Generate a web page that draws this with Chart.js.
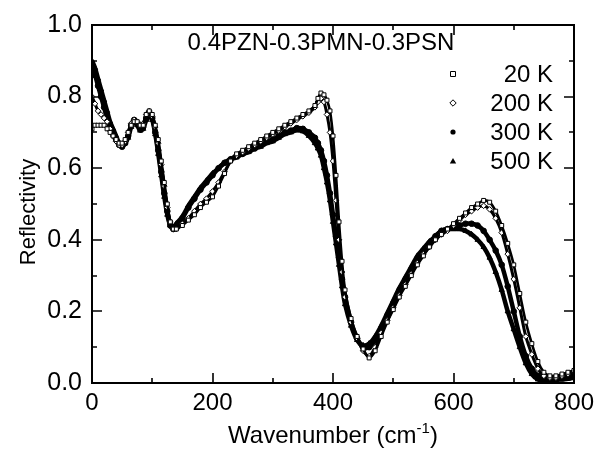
<!DOCTYPE html>
<html>
<head>
<meta charset="utf-8">
<script src="https://cdn.jsdelivr.net/npm/chart.js@4"></script>
<style>
  html, body { margin: 0; padding: 0; background: #fff; }
  canvas { display: block; }
</style>
</head>
<body>
<canvas id="c" width="615" height="453"></canvas>
<script>
// ---- data ----
const wavenumber = [0,5,10,15,20,25,30,35,40,45,50,55,60,65,70,75,80,85,90,95,100,
  105,110,115,120,125,130,135,140,
  150,160,170,180,190,200,210,220,230,240,250,260,270,280,290,300,
  310,320,330,340,350,360,370,375,380,385,390,395,400,405,410,415,420,
  430,440,450,460,470,480,490,500,510,520,530,540,550,560,570,580,590,
  600,610,620,630,640,650,660,670,680,690,700,710,720,730,740,750,760,770,780,790,800];

const r20K = [0.71,0.72,0.72,0.72,0.72,0.71,0.70,0.69,0.68,0.67,0.67,0.68,0.70,0.72,0.73,0.73,0.72,0.72,0.75,0.76,0.75,
  0.72,0.68,0.62,0.56,0.50,0.45,0.43,0.43,
  0.44,0.455,0.47,0.49,0.505,0.52,0.55,0.585,0.62,0.64,0.65,0.66,0.67,0.68,0.69,0.70,
  0.71,0.72,0.73,0.74,0.75,0.76,0.775,0.795,0.81,0.805,0.79,0.76,0.69,0.58,0.45,0.34,0.26,
  0.18,0.13,0.095,0.07,0.09,0.13,0.17,0.205,0.24,0.27,0.30,0.33,0.355,0.38,0.40,0.415,0.43,
  0.445,0.46,0.475,0.49,0.50,0.51,0.505,0.48,0.44,0.39,0.33,0.25,0.17,0.11,0.06,0.03,0.02,0.02,0.025,0.03,0.035];

const r200K = [0.80,0.78,0.76,0.75,0.74,0.73,0.71,0.69,0.675,0.665,0.665,0.675,0.70,0.725,0.735,0.73,0.72,0.725,0.75,0.76,0.745,
  0.715,0.67,0.61,0.55,0.49,0.45,0.43,0.43,
  0.445,0.46,0.48,0.50,0.515,0.535,0.56,0.59,0.62,0.635,0.645,0.655,0.665,0.675,0.685,0.695,
  0.705,0.715,0.725,0.735,0.745,0.755,0.77,0.785,0.795,0.785,0.75,0.70,0.62,0.51,0.40,0.31,0.24,
  0.17,0.125,0.09,0.075,0.10,0.14,0.175,0.21,0.245,0.275,0.305,0.335,0.36,0.38,0.40,0.415,0.425,
  0.44,0.455,0.47,0.48,0.49,0.495,0.485,0.46,0.42,0.36,0.29,0.21,0.13,0.08,0.04,0.02,0.015,0.015,0.02,0.025,0.03];

const r300K = [0.88,0.86,0.83,0.80,0.77,0.74,0.72,0.70,0.68,0.665,0.66,0.67,0.69,0.72,0.735,0.725,0.71,0.715,0.74,0.755,0.74,
  0.70,0.65,0.59,0.53,0.48,0.44,0.43,0.44,
  0.46,0.49,0.515,0.54,0.56,0.58,0.60,0.615,0.625,0.635,0.64,0.65,0.655,0.665,0.675,0.68,
  0.69,0.70,0.705,0.712,0.71,0.70,0.685,0.67,0.65,0.62,0.58,0.53,0.47,0.41,0.35,0.29,0.24,
  0.17,0.125,0.10,0.10,0.12,0.15,0.185,0.22,0.255,0.285,0.315,0.345,0.37,0.39,0.41,0.425,0.43,
  0.435,0.44,0.445,0.445,0.44,0.425,0.40,0.37,0.33,0.27,0.20,0.13,0.075,0.04,0.02,0.01,0.01,0.012,0.015,0.02,0.025];

const r500K = [0.90,0.88,0.85,0.82,0.79,0.76,0.73,0.71,0.69,0.67,0.665,0.67,0.685,0.715,0.73,0.72,0.705,0.71,0.735,0.75,0.735,
  0.695,0.64,0.58,0.52,0.47,0.44,0.435,0.445,
  0.465,0.495,0.52,0.545,0.565,0.585,0.60,0.615,0.625,0.63,0.64,0.645,0.655,0.66,0.67,0.675,
  0.685,0.695,0.70,0.706,0.703,0.69,0.67,0.655,0.635,0.60,0.56,0.51,0.45,0.39,0.33,0.27,0.22,
  0.16,0.12,0.105,0.11,0.13,0.16,0.195,0.23,0.265,0.295,0.325,0.355,0.375,0.395,0.41,0.425,0.43,
  0.43,0.43,0.425,0.415,0.40,0.38,0.35,0.31,0.26,0.20,0.15,0.10,0.055,0.025,0.01,0.005,0.005,0.008,0.01,0.012,0.015];

const seriesLabels = ['20 K', '200 K', '300 K', '500 K'];
const sampleLabel = '0.4PZN-0.3PMN-0.3PSN';
const xTicks = [0, 200, 400, 600, 800];
const yTicks = [0.0, 0.2, 0.4, 0.6, 0.8, 1.0];
const xTitle = 'Wavenumber (cm';
const xTitleSup = '-1';
const yTitle = 'Reflectivity';

// ---- chart ----
const FONT = '"Liberation Sans", Arial, Helvetica, sans-serif';
const toXY = arr => arr.map((v, i) => ({ x: wavenumber[i], y: v }));

const styles = [
  { pointStyle: 'rect',    fill: false, bw: 2.6, r: 2.8 },
  { pointStyle: 'rectRot', fill: false, bw: 3,   r: 2.8 },
  { pointStyle: 'circle',  fill: true,  bw: 4.5, r: 2.8 },
  { pointStyle: 'triangle',fill: true,  bw: 4.5, r: 3 }
];
const allSeries = [r20K, r200K, r300K, r500K];

const datasets = allSeries.map((arr, i) => ({
  label: seriesLabels[i],
  data: toXY(arr),
  showLine: true,
  borderColor: '#000',
  borderWidth: styles[i].bw,
  pointStyle: styles[i].pointStyle,
  pointRadius: styles[i].r,
  pointBorderWidth: 1,
  pointBorderColor: '#000',
  pointBackgroundColor: styles[i].fill ? '#000' : '#fff',
  tension: 0.3,
  fill: false
}));

const framePlugin = {
  id: 'frame',
  afterDraw(chart) {
    const { ctx, chartArea: a, scales } = chart;
    const xs = scales.x, ys = scales.y;
    ctx.save();
    ctx.strokeStyle = '#000';
    ctx.lineWidth = 2;
    ctx.strokeRect(a.left, a.top, a.right - a.left, a.bottom - a.top);
    ctx.lineWidth = 1.6;
    ctx.beginPath();
    for (let v = 0; v <= 800; v += 100) {
      const px = Math.round(xs.getPixelForValue(v));
      const len = (v % 200 === 0) ? 10 : 5;
      ctx.moveTo(px, a.bottom); ctx.lineTo(px, a.bottom - len);
      ctx.moveTo(px, a.top); ctx.lineTo(px, a.top + len);
    }
    for (let k = 0; k <= 10; k++) {
      const py = Math.round(ys.getPixelForValue(k / 10));
      const len = (k % 2 === 0) ? 10 : 5;
      ctx.moveTo(a.left, py); ctx.lineTo(a.left + len, py);
      ctx.moveTo(a.right, py); ctx.lineTo(a.right - len, py);
    }
    ctx.stroke();
    ctx.restore();
  }
};

const textPlugin = {
  id: 'texts',
  afterDraw(chart) {
    const { ctx, chartArea: a } = chart;
    ctx.save();
    ctx.fillStyle = '#000';
    // sample name
    ctx.font = '24px ' + FONT;
    ctx.textAlign = 'center';
    ctx.textBaseline = 'alphabetic';
    ctx.fillText(sampleLabel, 321, 50);
    // legend
    const ly = [74, 103, 132, 161];
    ctx.textAlign = 'right';
    ctx.textBaseline = 'middle';
    ly.forEach((y, i) => {
      ctx.fillText(seriesLabels[i], 553, y + 1);
      const mx = 453;
      ctx.lineWidth = 1;
      ctx.strokeStyle = '#000';
      ctx.beginPath();
      if (i === 0) {
        ctx.rect(mx - 2.5, y - 2.5, 5, 5);
        ctx.stroke();
      } else if (i === 1) {
        ctx.moveTo(mx, y - 3.2); ctx.lineTo(mx + 3.2, y); ctx.lineTo(mx, y + 3.2); ctx.lineTo(mx - 3.2, y); ctx.closePath();
        ctx.stroke();
      } else if (i === 2) {
        ctx.arc(mx, y, 2.6, 0, Math.PI * 2);
        ctx.fill();
      } else {
        ctx.moveTo(mx, y - 3); ctx.lineTo(mx + 3.2, y + 2.6); ctx.lineTo(mx - 3.2, y + 2.6); ctx.closePath();
        ctx.fill();
      }
    });
    // x title with superscript
    ctx.textBaseline = 'alphabetic';
    ctx.textAlign = 'left';
    const mainFont = '24px ' + FONT, supFont = '15px ' + FONT;
    ctx.font = mainFont;
    const w1 = ctx.measureText(xTitle).width;
    const w3 = ctx.measureText(')').width;
    ctx.font = supFont;
    const w2 = ctx.measureText(xTitleSup).width;
    const total = w1 + w2 + w3;
    let x0 = (a.left + a.right) / 2 - total / 2;
    const base = 443;
    ctx.font = mainFont;
    ctx.fillText(xTitle, x0, base);
    ctx.font = supFont;
    ctx.fillText(xTitleSup, x0 + w1, base - 10);
    ctx.font = mainFont;
    ctx.fillText(')', x0 + w1 + w2, base);
    // y title
    ctx.translate(29, 212);
    ctx.rotate(-Math.PI / 2);
    ctx.textAlign = 'center';
    ctx.textBaseline = 'middle';
    ctx.font = '22px ' + FONT;
    ctx.fillText(yTitle, 0, 0);
    ctx.restore();
  }
};

new Chart(document.getElementById('c'), {
  type: 'scatter',
  data: { datasets },
  options: {
    responsive: false,
    animation: false,
    devicePixelRatio: 1,
    layout: { padding: { top: 14, right: 41, left: 0, bottom: 0 } },
    plugins: { legend: { display: false }, tooltip: { enabled: false } },
    scales: {
      x: {
        type: 'linear', min: 0, max: 800,
        afterBuildTicks: s => { s.ticks = xTicks.map(v => ({ value: v })); },
        afterFit: s => { s.height = 70; },
        grid: { display: false, drawTicks: false },
        border: { display: false },
        ticks: { color: '#000', font: { family: FONT, size: 24 }, padding: 6, maxRotation: 0 }
      },
      y: {
        type: 'linear', min: 0, max: 1,
        afterBuildTicks: s => { s.ticks = yTicks.map(v => ({ value: v })); },
        afterFit: s => { s.width = 92; },
        grid: { display: false, drawTicks: false },
        border: { display: false },
        ticks: { color: '#000', font: { family: FONT, size: 25 }, padding: 10,
                 callback: v => Number(v).toFixed(1) }
      }
    }
  },
  plugins: [framePlugin, textPlugin]
});
</script>
</body>
</html>
